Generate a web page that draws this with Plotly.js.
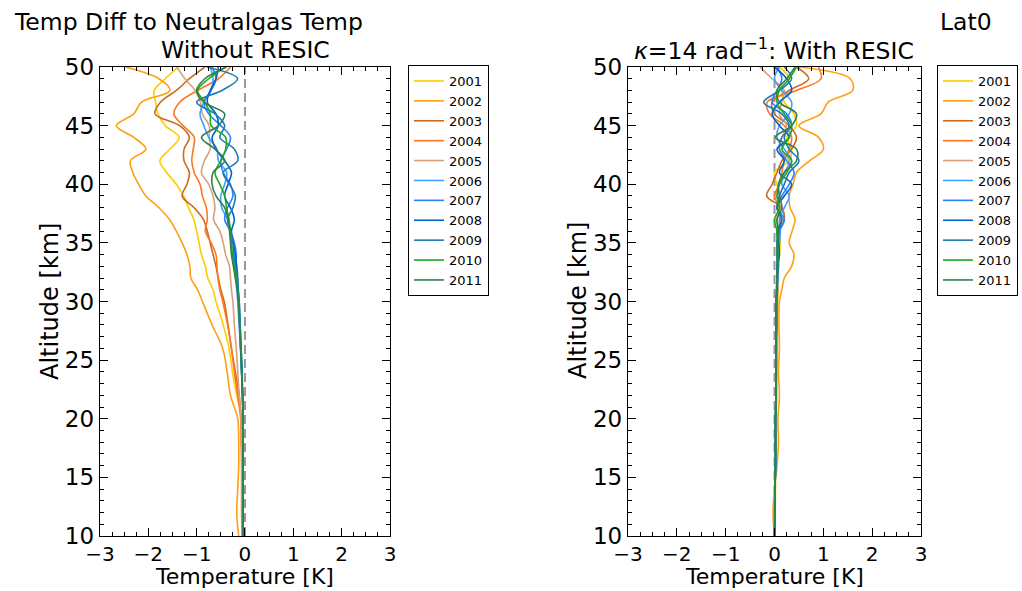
<!DOCTYPE html>
<html>
<head>
<meta charset="utf-8">
<script src="https://cdn.plot.ly/plotly-3.0.1.min.js"></script>
<style>
html,body{margin:0;padding:0;background:#fff;}
#chart{width:1022px;height:591px;}
</style>
</head>
<body>
<div id="chart"></div>
<script>
// Altitude grid [km]
var altitudes = [10,12,14,16,18,20,22,24,26,28,30,31,32,33,34,35,36,37,38,39,40,41,42,43,44,45,46,47,48,49,50];
var years = ["2001","2002","2003","2004","2005","2006","2007","2008","2009","2010","2011"];
var colors = ["#ffcc00","#ffa010","#cc6a1e","#ff7722","#d8a07c","#3fa0ff","#2a7fff","#0063c8","#1f7bb4","#1ea81e","#2e8050"];

// Without RESIC: temperature difference [K]
var noResic2001 = [-0.05,-0.05,-0.06,-0.06,-0.06,-0.07,-0.17,-0.26,-0.33,-0.45,-0.6,-0.66,-0.77,-0.82,-0.9,-0.95,-1.0,-1.06,-1.17,-1.27,-1.42,-1.62,-1.76,-1.55,-1.36,-1.65,-1.8,-1.85,-1.88,-1.65,-1.38];
var noResic2002 = [-0.13,-0.17,-0.15,-0.13,-0.13,-0.15,-0.3,-0.37,-0.46,-0.68,-0.88,-0.98,-1.12,-1.14,-1.2,-1.3,-1.42,-1.56,-1.78,-2.05,-2.2,-2.32,-2.37,-2.05,-2.3,-2.66,-2.3,-2.14,-1.55,-1.78,-2.47];
var noResic2003 = [-0.05,-0.06,-0.06,-0.06,-0.07,-0.08,-0.12,-0.2,-0.28,-0.35,-0.43,-0.5,-0.55,-0.6,-0.66,-0.72,-0.78,-0.86,-1.05,-1.3,-1.2,-1.15,-1.26,-1.26,-1.15,-1.35,-1.86,-1.75,-1.42,-1.15,-0.83];
var noResic2004 = [-0.06,-0.07,-0.07,-0.07,-0.08,-0.09,-0.15,-0.22,-0.28,-0.36,-0.46,-0.52,-0.56,-0.58,-0.6,-0.7,-0.82,-0.78,-0.8,-0.88,-0.93,-1.05,-1.1,-1.07,-1.05,-1.28,-1.47,-1.35,-0.98,-0.55,-0.3];
var noResic2005 = [-0.05,-0.05,-0.06,-0.06,-0.07,-0.08,-0.12,-0.15,-0.18,-0.22,-0.25,-0.28,-0.3,-0.32,-0.4,-0.45,-0.52,-0.65,-0.62,-0.66,-0.75,-0.9,-0.84,-0.72,-0.74,-0.74,-0.88,-0.92,-1.03,-1.24,-1.41];
var noResic2006 = [-0.04,-0.04,-0.04,-0.04,-0.04,-0.04,-0.05,-0.07,-0.09,-0.12,-0.15,-0.17,-0.19,-0.21,-0.23,-0.25,-0.3,-0.36,-0.48,-0.5,-0.42,-0.38,-0.55,-0.58,-0.75,-0.85,-0.93,-0.85,-0.7,-0.66,-0.72];
var noResic2007 = [-0.04,-0.04,-0.04,-0.04,-0.04,-0.05,-0.05,-0.07,-0.09,-0.11,-0.14,-0.15,-0.17,-0.19,-0.18,-0.22,-0.3,-0.42,-0.36,-0.25,-0.3,-0.45,-0.5,-0.38,-0.3,-0.5,-0.75,-0.85,-0.7,-0.6,-0.68];
var noResic2008 = [-0.04,-0.04,-0.04,-0.04,-0.04,-0.04,-0.05,-0.06,-0.08,-0.1,-0.12,-0.14,-0.15,-0.17,-0.2,-0.24,-0.28,-0.22,-0.3,-0.42,-0.35,-0.28,-0.42,-0.6,-0.68,-0.55,-0.6,-0.78,-0.72,-0.6,-0.55];
var noResic2009 = [-0.04,-0.04,-0.04,-0.04,-0.04,-0.04,-0.05,-0.06,-0.08,-0.1,-0.12,-0.14,-0.16,-0.2,-0.23,-0.25,-0.3,-0.36,-0.25,-0.2,-0.32,-0.45,-0.15,-0.22,-0.52,-0.42,-0.62,-1.0,-0.48,-0.15,-0.79];
var noResic2010 = [-0.04,-0.04,-0.04,-0.04,-0.04,-0.04,-0.05,-0.07,-0.09,-0.11,-0.13,-0.15,-0.18,-0.22,-0.26,-0.28,-0.3,-0.33,-0.38,-0.42,-0.52,-0.62,-0.5,-0.4,-0.4,-0.7,-0.72,-0.83,-0.98,-0.75,-0.41];
var noResic2011 = [-0.04,-0.04,-0.04,-0.04,-0.04,-0.04,-0.05,-0.07,-0.09,-0.11,-0.13,-0.16,-0.2,-0.24,-0.28,-0.3,-0.32,-0.35,-0.42,-0.6,-0.68,-0.66,-0.42,-0.62,-0.9,-0.55,-0.42,-0.85,-1.0,-0.83,-0.38];

// With RESIC (kappa = 14 rad^-1): temperature difference [K]
var resic2001 = [0.0,0.01,0.02,0.02,0.03,0.03,0.04,0.04,0.05,0.05,0.06,0.07,0.08,0.08,0.1,0.12,0.1,0.05,0.08,0.12,0.05,0.0,0.3,0.35,0.25,0.45,0.4,0.2,0.15,0.3,0.1];
var resic2002 = [0.0,-0.03,0.0,0.05,0.08,0.07,0.1,0.08,0.1,0.09,0.1,0.15,0.2,0.35,0.4,0.3,0.36,0.42,0.32,0.3,0.38,0.45,0.72,1.0,0.9,0.5,0.95,1.1,1.6,1.55,0.5];
var resic2003 = [0.0,0.0,0.01,0.02,0.02,0.03,0.03,0.04,0.04,0.05,0.05,0.06,0.06,0.08,0.08,0.05,0.1,0.2,0.15,-0.16,-0.05,0.05,0.15,0.35,0.45,0.3,0.0,-0.05,0.3,0.7,0.45];
var resic2004 = [0.0,0.0,0.01,0.02,0.03,0.03,0.04,0.04,0.05,0.05,0.06,0.06,0.05,0.05,0.06,0.08,0.1,0.12,0.1,0.0,0.1,0.15,0.2,0.3,0.35,0.2,-0.1,-0.15,0.45,0.95,0.9];
var resic2005 = [0.0,0.01,0.01,0.02,0.02,0.03,0.03,0.04,0.04,0.05,0.05,0.06,0.06,0.07,0.08,0.1,0.08,0.05,0.12,0.05,0.1,0.2,0.3,0.1,0.15,0.25,0.1,0.15,0.2,-0.05,-0.3];
var resic2006 = [0.0,0.01,0.01,0.02,0.02,0.02,0.03,0.03,0.03,0.04,0.05,0.06,0.07,0.06,0.08,0.1,0.12,0.1,0.2,0.3,0.15,0.2,0.35,0.2,0.05,0.1,0.3,0.35,0.15,0.0,0.1];
var resic2007 = [0.0,0.01,0.01,0.02,0.02,0.02,0.03,0.03,0.03,0.04,0.04,0.05,0.06,0.05,0.06,0.08,0.1,0.2,0.05,0.15,0.3,0.4,0.25,0.1,0.15,0.35,0.25,-0.05,0.05,0.15,0.05];
var resic2008 = [0.0,0.01,0.01,0.02,0.02,0.02,0.03,0.03,0.03,0.04,0.04,0.05,0.05,0.06,0.1,0.08,0.05,0.15,0.05,0.2,0.35,0.1,0.2,0.05,0.3,0.1,-0.05,0.1,0.35,0.25,0.0];
var resic2009 = [0.0,0.01,0.01,0.02,0.02,0.02,0.03,0.03,0.03,0.04,0.04,0.05,0.06,0.08,0.06,0.05,0.08,0.15,0.05,0.1,0.2,0.3,0.5,0.3,0.2,0.3,0.15,-0.22,0.1,0.35,0.2];
var resic2010 = [0.0,0.01,0.01,0.02,0.02,0.02,0.03,0.03,0.03,0.03,0.03,0.04,0.05,0.06,0.07,0.06,0.05,0.0,0.1,0.05,0.1,0.25,0.35,0.15,0.3,0.35,0.2,0.05,0.1,0.3,0.45];
var resic2011 = [0.0,0.01,0.01,0.02,0.02,0.02,0.03,0.03,0.03,0.03,0.03,0.04,0.05,0.06,0.05,0.06,0.08,0.05,0.15,0.1,0.08,0.2,0.45,0.45,0.02,0.35,0.45,0.1,0.05,0.25,0.42];

var noResicSeries = [noResic2001,noResic2002,noResic2003,noResic2004,noResic2005,noResic2006,noResic2007,noResic2008,noResic2009,noResic2010,noResic2011];
var resicSeries = [resic2001,resic2002,resic2003,resic2004,resic2005,resic2006,resic2007,resic2008,resic2009,resic2010,resic2011];

var FONT = "DejaVu Sans, Liberation Sans, sans-serif";
var traces = [];
years.forEach(function(yr, i){
  traces.push({
    type:'scatter', mode:'lines', name:yr, x:noResicSeries[i], y:altitudes,
    xaxis:'x', yaxis:'y', legend:'legend',
    line:{color:colors[i], width:1.6, shape:'spline', smoothing:1}
  });
});
years.forEach(function(yr, i){
  traces.push({
    type:'scatter', mode:'lines', name:yr, x:resicSeries[i], y:altitudes,
    xaxis:'x2', yaxis:'y2', legend:'legend2',
    line:{color:colors[i], width:1.6, shape:'spline', smoothing:1}
  });
});

function xax(dom, anchor){
  return {domain:dom, anchor:anchor, range:[-3,3], dtick:1, tick0:0,
    ticks:'inside', ticklen:8, tickwidth:1, tickcolor:'#000',
    minor:{dtick:0.25, ticks:'inside', ticklen:4, tickcolor:'#000', tickwidth:1},
    showline:true, linecolor:'#000', linewidth:1.2, mirror:'ticks',
    showgrid:false, zeroline:false, tickfont:{family:FONT, size:20, color:'#000'}, fixedrange:true};
}
function yax(anchor){
  return {domain:[0.0931,0.8866], anchor:anchor, range:[10,50], dtick:5, tick0:0,
    ticks:'inside', ticklen:8, tickwidth:1, tickcolor:'#000',
    minor:{dtick:1, ticks:'inside', ticklen:4, tickcolor:'#000', tickwidth:1},
    showline:true, linecolor:'#000', linewidth:1.2, mirror:'ticks',
    showgrid:false, zeroline:false, tickfont:{family:FONT, size:23, color:'#000'}, fixedrange:true};
}

var legendBase = {xanchor:'left', yanchor:'top', y:0.89, bgcolor:'#fff',
  bordercolor:'#000', borderwidth:1, font:{family:FONT, size:13, color:'#000'}, tracegroupgap:0};

var layout = {
  width:1022, height:591, paper_bgcolor:'#fff', plot_bgcolor:'#fff',
  margin:{l:0, r:0, t:0, b:0, pad:0},
  font:{family:FONT, color:'#000'},
  xaxis: xax([0.0978,0.3816],'y'),
  yaxis: yax('x'),
  xaxis2: xax([0.6145,0.9012],'y2'),
  yaxis2: yax('x2'),
  legend: Object.assign({}, legendBase, {x:0.3992}),
  legend2: Object.assign({}, legendBase, {x:0.9168}),
  shapes:[
    {type:'line', xref:'x', yref:'y', x0:0, x1:0, y0:10, y1:50, layer:'below', line:{color:'#999999', width:2, dash:'9px,5px'}},
    {type:'line', xref:'x2', yref:'y2', x0:0, x1:0, y0:10, y1:50, layer:'below', line:{color:'#999999', width:2, dash:'9px,5px'}}
  ],
  annotations:[
    {text:'Temp Diff to Neutralgas Temp', xref:'paper', yref:'paper', x:0.0117, y:0.9628, xanchor:'left', yanchor:'middle', showarrow:false, font:{family:FONT, size:23.5}},
    {text:'Without RESIC', xref:'paper', yref:'paper', x:0.2407, y:0.9154, xanchor:'center', yanchor:'middle', showarrow:false, font:{family:FONT, size:23.5}},
    {text:'<i>κ</i>=14 rad<sup>−1</sup>: With RESIC', xref:'paper', yref:'paper', x:0.7573, y:0.9154, xanchor:'center', yanchor:'middle', showarrow:false, font:{family:FONT, size:23.5}},
    {text:'Lat0', xref:'paper', yref:'paper', x:0.9178, y:0.9628, xanchor:'left', yanchor:'middle', showarrow:false, font:{family:FONT, size:23.5}},
    {text:'Altitude [km]', xref:'paper', yref:'paper', x:0.0489, y:0.4907, xanchor:'center', yanchor:'middle', textangle:-90, showarrow:false, font:{family:FONT, size:24}},
    {text:'Altitude [km]', xref:'paper', yref:'paper', x:0.5656, y:0.4907, xanchor:'center', yanchor:'middle', textangle:-90, showarrow:false, font:{family:FONT, size:24}},
    {text:'Temperature [K]', xref:'paper', yref:'paper', x:0.2397, y:0, xanchor:'center', yanchor:'bottom', showarrow:false, font:{family:FONT, size:22}},
    {text:'Temperature [K]', xref:'paper', yref:'paper', x:0.7583, y:0, xanchor:'center', yanchor:'bottom', showarrow:false, font:{family:FONT, size:22}}
  ]
};

Plotly.newPlot('chart', traces, layout, {displayModeBar:false, staticPlot:true});
</script>
</body>
</html>
